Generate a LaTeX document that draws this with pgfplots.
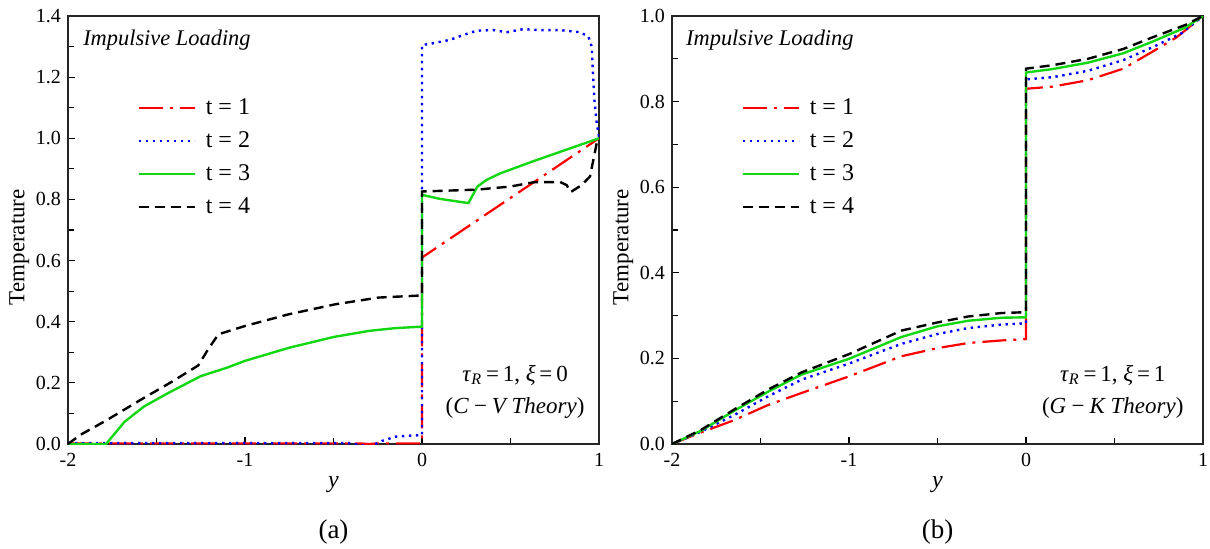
\documentclass[border=0pt]{standalone}
\usepackage{pgfplots}
\pgfplotsset{compat=1.18}
\usepackage{fontspec}
\setmainfont{Liberation Serif}
\definecolor{cred}{RGB}{255,0,0}
\definecolor{cblue}{RGB}{0,0,255}
\definecolor{cgreen}{RGB}{20,215,20}
\pgfplotsset{
  myaxis/.style={
    scale only axis, width=265.5pt, height=214pt, anchor=south west,
    xmin=-2, xmax=1, ymin=0,
    xtick={-2,-1,0,1}, minor xtick={-1.5,-0.5,0.5},
    xticklabels={-2,-1,0,1},
    minor y tick num=1,
    tick align=inside, xtick pos=bottom, ytick pos=left,
    major tick length=3.5pt, minor tick length=3pt,
    axis line style={line width=0.8pt, black!85},
    every tick/.style={black, line width=0.6pt},
    tick label style={font=\fontsize{10}{12}\selectfont},
    xticklabel style={yshift=-1pt},
    /pgf/number format/assume math mode=true,
    yticklabel style={/pgf/number format/.cd, fixed, fixed zerofill, precision=1},
    xlabel={\textit{y}}, ylabel={Temperature},
    xlabel style={font=\fontsize{12}{14}\selectfont, yshift=2pt},
    ylabel style={font=\fontsize{11.5}{13}\selectfont, at={(ticklabel cs:0.46)}},
    ylabel shift=-3.5pt,
    clip mode=individual,
    legend cell align=left,
    legend style={at={(0.13,0.815)}, anchor=north west, draw=none, fill=none,
      font=\fontsize{12}{14}\selectfont, row sep=4pt, inner sep=0pt,
      nodes={inner sep=1pt, text height=8.5pt, text depth=2pt},
      /tikz/every odd column/.append style={column sep=4pt}},
    legend image code/.code={\draw[##1] (0pt,0pt) -- (28pt,0pt);},
  },
  sA/.style={cred, line width=1.1pt, dash pattern=on 12pt off 3.5pt on 1.5pt off 3.5pt},
  sB/.style={cblue, line width=1.2pt, dash pattern=on 1.2pt off 2.3pt},
  sC/.style={cgreen, line width=1.2pt},
  sD/.style={black, line width=1.2pt, dash pattern=on 5pt off 3pt},
}
\begin{document}
\begin{tikzpicture}
\path[use as bounding box] (0,0) rectangle (605pt,274pt);
% ---------------- (a) ----------------
\begin{axis}[myaxis, at={(34pt,52pt)}, ymax=1.4, ytick={0,0.2,...,1.4}]
\addplot[sA] coordinates {(-2,0.002) (-0.35,0.002) (-0.3,0.0) (-0.25,0.002) (0,0.002) (0,0.61) (1,1.0)};
\addplot[sB] coordinates {(-2,0.003) (-0.4,0.003) (-0.35,-0.004) (-0.29,-0.007) (-0.226,0.010) (-0.15,0.024) (-0.05,0.028) (0,0.029)
 (0,1.305) (0.064,1.311) (0.158,1.322) (0.234,1.338) (0.309,1.352) (0.403,1.354) (0.478,1.347) (0.572,1.357) (0.667,1.354) (0.78,1.354) (0.893,1.347) (0.94,1.333) (0.959,1.30) (0.964,1.234) (0.974,1.125) (0.987,1.049) (1,1.005)};
\addplot[sC] coordinates {(-2,0) (-1.785,0) (-1.68,0.073) (-1.57,0.123) (-1.43,0.168) (-1.25,0.222) (-1.1,0.25) (-1,0.272) (-0.75,0.315) (-0.5,0.35) (-0.3,0.37) (-0.15,0.379) (0,0.384)
 (0,0.815) (0.10,0.802) (0.262,0.788) (0.313,0.842) (0.365,0.864) (0.441,0.885) (0.629,0.925) (0.817,0.963) (1,1.0)};
\addplot[sD] coordinates {(-2,0) (-1.93,0.03) (-1.79,0.075) (-1.585,0.146) (-1.415,0.203) (-1.264,0.257) (-1.208,0.31) (-1.15,0.359) (-1,0.386) (-0.755,0.424) (-0.49,0.457) (-0.245,0.479) (0,0.486)
 (0,0.826) (0.309,0.832) (0.497,0.842) (0.629,0.856) (0.78,0.857) (0.817,0.847) (0.84,0.824) (0.902,0.847) (0.949,0.875) (0.968,0.929) (0.987,0.984) (1,1.0)};
\legend{t = 1, t = 2, t = 3, t = 4}
\node[anchor=west, inner sep=0pt, font=\fontsize{11.2}{13}\selectfont\itshape] at (rel axis cs:0.028,0.944) {Impulsive Loading};
\node[font=\fontsize{11.5}{13}\selectfont] at (rel axis cs:0.842,0.161) {\textit{τ}\textsubscript{\textit{R}}\,=\,1, \textit{ξ}\,=\,0};
\node[font=\fontsize{11.5}{13}\selectfont] at (rel axis cs:0.842,0.084) {(\textit{C\,−\,V Theory})};
\node[font=\fontsize{13.5}{15}\selectfont] at (rel axis cs:0.5,-0.206) {(a)};
\end{axis}
% ---------------- (b) ----------------
\begin{axis}[myaxis, at={(336pt,52pt)}, ymax=1.0, ytick={0,0.2,...,1.0}]
\addplot[sA] coordinates {(-2,0) (-1.836,0.027) (-1.647,0.056) (-1.458,0.091) (-1.27,0.119) (-1,0.158) (-0.704,0.205) (-0.5,0.224) (-0.326,0.236) (-0.138,0.242) (0,0.245)
 (0,0.83) (0.15,0.835) (0.35,0.85) (0.55,0.877) (0.72,0.918) (0.85,0.95) (1,1.0)};
\addplot[sB] coordinates {(-2,0) (-1.836,0.029) (-1.647,0.068) (-1.458,0.111) (-1.27,0.15) (-1,0.188) (-0.704,0.234) (-0.5,0.257) (-0.326,0.271) (-0.138,0.279) (0,0.282)
 (0,0.852) (0.15,0.857) (0.35,0.872) (0.55,0.897) (0.72,0.928) (0.88,0.96) (1,1.0)};
\addplot[sC] coordinates {(-2,0) (-1.836,0.031) (-1.647,0.078) (-1.458,0.122) (-1.27,0.162) (-1,0.199) (-0.704,0.25) (-0.5,0.275) (-0.326,0.288) (-0.138,0.295) (0,0.296)
 (0,0.868) (0.15,0.876) (0.35,0.891) (0.55,0.913) (0.72,0.941) (0.9,0.973) (1,1.0)};
\addplot[sD] coordinates {(-2,0) (-1.836,0.033) (-1.647,0.081) (-1.458,0.127) (-1.27,0.167) (-1,0.21) (-0.704,0.265) (-0.5,0.284) (-0.326,0.298) (-0.138,0.306) (0,0.308)
 (0,0.877) (0.15,0.885) (0.35,0.9) (0.55,0.923) (0.72,0.951) (0.9,0.979) (1,1.0)};
\legend{t = 1, t = 2, t = 3, t = 4}
\node[anchor=west, inner sep=0pt, font=\fontsize{11.2}{13}\selectfont\itshape] at (rel axis cs:0.026,0.944) {Impulsive Loading};
\node[font=\fontsize{11.5}{13}\selectfont] at (rel axis cs:0.83,0.161) {\textit{τ}\textsubscript{\textit{R}}\,=\,1, \textit{ξ}\,=\,1};
\node[font=\fontsize{11.5}{13}\selectfont] at (rel axis cs:0.83,0.084) {(\textit{G\,−\,K Theory})};
\node[font=\fontsize{13.5}{15}\selectfont] at (rel axis cs:0.5,-0.206) {(b)};
\end{axis}
\end{tikzpicture}
\end{document}
